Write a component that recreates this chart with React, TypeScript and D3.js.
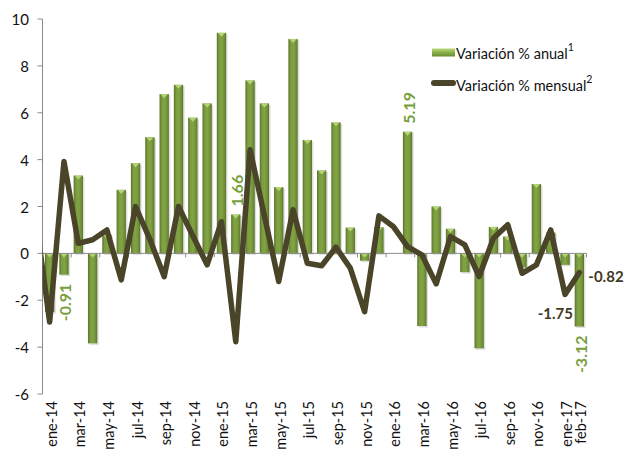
import React from 'react'
import * as d3 from 'd3'

// meses del eje x
const categorias = [
  'ene-14', 'feb-14', 'mar-14', 'abr-14', 'may-14', 'jun-14', 'jul-14', 'ago-14', 'sep-14', 'oct-14', 'nov-14', 'dic-14',
  'ene-15', 'feb-15', 'mar-15', 'abr-15', 'may-15', 'jun-15', 'jul-15', 'ago-15', 'sep-15', 'oct-15', 'nov-15', 'dic-15',
  'ene-16', 'feb-16', 'mar-16', 'abr-16', 'may-16', 'jun-16', 'jul-16', 'ago-16', 'sep-16', 'oct-16', 'nov-16', 'dic-16',
  'ene-17', 'feb-17'
]

// Variación % anual (barras)
const anual = [
  -2.5, -0.91, 3.32, -3.84, 0.8, 2.71, 3.85, 4.96, 6.8, 7.19, 5.79, 6.4,
  9.41, 1.66, 7.38, 6.4, 2.83, 9.15, 4.84, 3.54, 5.59, 1.1, -0.31, 1.12,
  0.0, 5.19, -3.1, 2.0, 1.05, -0.8, -4.05, 1.13, 0.72, -0.6, 2.96, 0.89,
  -0.49, -3.12
]

// Variación % mensual (línea)
const mensual = [
  -2.93, 3.92, 0.43, 0.58, 1.0, -1.13, 2.0, 0.6, -0.99, 2.0, 0.75, -0.49,
  1.35, -3.77, 4.42, 1.6, -1.2, 1.86, -0.42, -0.53, 0.26, -0.63, -2.49, 1.6,
  1.15, 0.29, -0.06, -1.3, 0.72, 0.36, -0.99, 0.65, 1.22, -0.85, -0.49, 1.0,
  -1.75, -0.82
]
// dic-13: sólo se ve el tramo que entra por el borde izquierdo
const mensualPrevio = 1.65

const yTicks = [-6, -4, -2, 0, 2, 4, 6, 8, 10]
const etiquetasAnual = ['feb-14', 'feb-15', 'feb-16', 'feb-17']
const etiquetasMensual = ['ene-17', 'feb-17']

const W = 629
const H = 457
const FONT = 'Lato, "Open Sans", sans-serif'

export default function App() {
  const x = d3.scaleBand<string>()
    .domain(categorias)
    .range([42.5, 586.5])
    .paddingInner(0.35)
    .paddingOuter(0.175)
  const y = d3.scaleLinear().domain([-6, 10]).range([394, 19])

  const step = x.step()
  const bw = x.bandwidth()
  const cx = (c: string) => (x(c) as number) + bw / 2
  const y0 = y(0)

  const puntos: [number, number][] = [
    [cx(categorias[0]) - step, mensualPrevio],
    ...mensual.map((v, i) => [cx(categorias[i]), v] as [number, number])
  ]
  const linea = d3.line<[number, number]>().x(d => d[0]).y(d => y(d[1]))

  // marcas del eje x cada dos meses (en los límites de categoría)
  const limites = d3.range(0, categorias.length + 1, 2).map(k =>
    k < categorias.length ? (x(categorias[k]) as number) - step * 0.175 : x.range()[1]
  )
  const etiquetasX = categorias.filter((c, i) => i % 2 === 0 || i === categorias.length - 1)

  const [xl, xr] = x.range()

  return (
    <svg width={W} height={H} style={{ position: 'absolute', left: 0, top: 0, background: '#fff' }}
      fontFamily={FONT}>
      <defs>
        <linearGradient id="barra" x1="0" x2="1" y1="0" y2="0">
          <stop offset="0" stopColor="#58732a" />
          <stop offset="0.25" stopColor="#7c9d40" />
          <stop offset="0.55" stopColor="#82a444" />
          <stop offset="0.85" stopColor="#6f8d36" />
          <stop offset="1" stopColor="#55702a" />
        </linearGradient>
        <linearGradient id="leyenda" x1="0" x2="0" y1="0" y2="1">
          <stop offset="0" stopColor="#b9d97c" />
          <stop offset="0.45" stopColor="#8fb24c" />
          <stop offset="1" stopColor="#6c8b33" />
        </linearGradient>
        <clipPath id="area">
          <rect x={xl} y={0} width={xr - xl} height={H} />
        </clipPath>
      </defs>

      {/* barras: sombra, cuerpo y bisel superior */}
      <g>
        {anual.map((v, i) => {
          const c = categorias[i]
          const x0 = x(c) as number
          const top = y(Math.max(v, 0))
          const h = Math.abs(y(v) - y0)
          if (h < 0.5) return null
          const cap = Math.min(4, h)
          return (
            <g key={c}>
              <rect x={x0 + 1.5} y={top + 1.5} width={bw} height={h} fill="#000" opacity={0.13} />
              <rect x={x0} y={top} width={bw} height={h} fill="url(#barra)" />
              <path d={`M${x0 + 0.8},${top}L${x0 + bw - 0.8},${top}L${x0 + bw / 2},${top + cap}Z`}
                fill="#b8d97a" opacity={0.9} />
            </g>
          )
        })}
      </g>

      {/* ejes */}
      <line x1={xl} x2={xl} y1={y(10)} y2={y(-6)} stroke="#8a8a8a" strokeWidth={1} />
      {yTicks.map(t => (
        <g key={t}>
          <line x1={xl - 5} x2={xl} y1={y(t)} y2={y(t)} stroke="#8a8a8a" />
          <text x={29} y={y(t)} textAnchor="end" dominantBaseline="central" fontSize={15} fill="#111">{t}</text>
        </g>
      ))}
      <line x1={xl} x2={xr} y1={y0} y2={y0} stroke="#8a8a8a" strokeWidth={1} />
      {limites.map((p, k) => (
        <line key={k} x1={p} x2={p} y1={y0} y2={y0 + 4} stroke="#8a8a8a" />
      ))}
      {etiquetasX.map(c => (
        <text key={c} transform={`translate(${cx(c) + 1.5},${401}) rotate(-90)`} textAnchor="end"
          dominantBaseline="central" fontSize={14.5} fill="#111">{c}</text>
      ))}

      {/* línea mensual */}
      <path d={linea(puntos) as string} fill="none" stroke="#4a4429" strokeWidth={5.5}
        strokeLinejoin="round" strokeLinecap="round" clipPath="url(#area)" />

      {/* etiquetas de datos */}
      {etiquetasAnual.map(c => {
        const v = anual[categorias.indexOf(c)]
        const pos = v >= 0
        const yy = pos ? y(v) - 8 : y(v) + 9
        return (
          <text key={c} transform={`translate(${cx(c) + 1},${yy}) rotate(-90)`}
            textAnchor={pos ? 'start' : 'end'} dominantBaseline="central" fontSize={16}
            fontWeight="bold" fill="#77a03c">{v.toFixed(2)}</text>
        )
      })}
      {etiquetasMensual.map((c, k) => {
        const v = mensual[categorias.indexOf(c)]
        const last = k === etiquetasMensual.length - 1
        return (
          <text key={c} x={last ? cx(c) + 9 : cx(c) + 8} y={last ? y(v) + 9 : y(v) + 24.5}
            textAnchor={last ? 'start' : 'end'} fontSize={15} fontWeight="bold" fill="#3f3a25">
            {v.toFixed(2)}
          </text>
        )
      })}

      {/* leyenda */}
      <rect x={432} y={48.5} width={23} height={8} fill="url(#leyenda)" />
      <text x={456} y={59} fontSize={14.5} fill="#111">
        Variación % anual<tspan dy={-8} fontSize={10.5}>1</tspan>
      </text>
      <line x1={434} x2={453} y1={83} y2={83} stroke="#4a4429" strokeWidth={6} strokeLinecap="round" />
      <text x={456} y={91} fontSize={14.5} fill="#111">
        Variación % mensual<tspan dy={-8} fontSize={10.5}>2</tspan>
      </text>
    </svg>
  )
}
